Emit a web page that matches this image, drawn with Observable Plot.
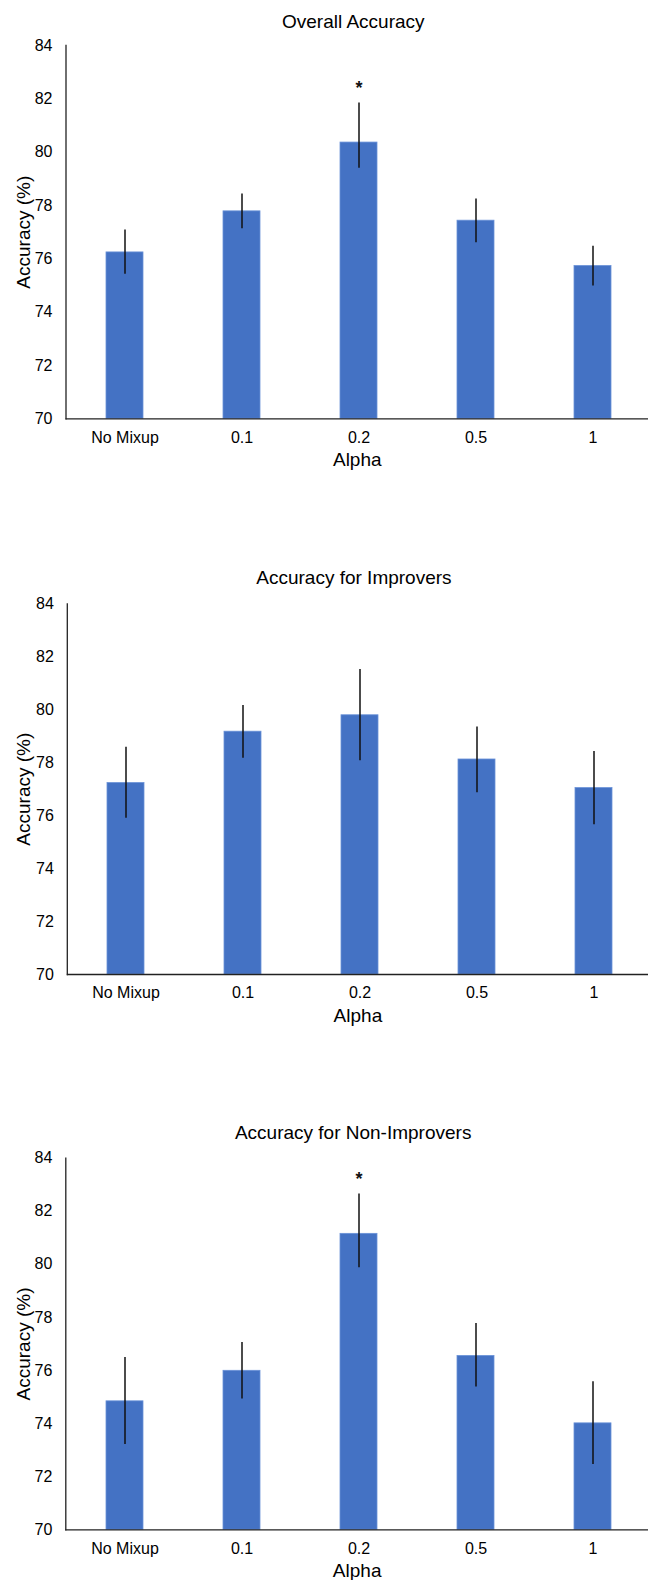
<!DOCTYPE html>
<html>
<head>
<meta charset="utf-8">
<script src="https://cdn.jsdelivr.net/npm/d3@7"></script>
<script src="https://cdn.jsdelivr.net/npm/@observablehq/plot@0.6"></script>
<style>
  html, body { margin: 0; padding: 0; background: #fff; }
  #charts svg { display: block; }
</style>
</head>
<body>
<div id="charts"></div>
<script>
// ---- data ----
const categories = ["No Mixup", "0.1", "0.2", "0.5", "1"];
const yTicks = [70, 72, 74, 76, 78, 80, 82, 84];

const overallMean = [76.24, 77.78, 80.36, 77.43, 75.73];
const overallLow  = [75.42, 77.13, 79.40, 76.60, 74.98];
const overallHigh = [77.08, 78.43, 81.84, 78.24, 76.47];
const overallSig  = ["0.2"];

const improversMean = [77.23, 79.17, 79.79, 78.12, 77.04];
const improversLow  = [75.90, 78.17, 78.07, 76.86, 75.66];
const improversHigh = [78.58, 80.16, 81.52, 79.35, 78.42];
const improversSig  = [];

const nonImproversMean = [74.84, 75.99, 81.15, 76.55, 74.01];
const nonImproversLow  = [73.21, 74.93, 79.87, 75.38, 72.46];
const nonImproversHigh = [76.49, 77.06, 82.65, 77.77, 75.58];
const nonImproversSig  = ["0.2"];

const titles = ["Overall Accuracy", "Accuracy for Improvers", "Accuracy for Non-Improvers"];
const xLabel = "Alpha";
const yLabel = "Accuracy (%)";

// ---- layout ----
const FONT = "'Liberation Sans', Arial, Helvetica, sans-serif";
const layouts = [
  {height: 555, marginLeft: 65.5, marginTop: 45,   bottom: 418.3, titleBase: 27.3},
  {height: 556, marginLeft: 66.8, marginTop: 48.3, bottom: 419,   titleBase: 28.3},
  {height: 469, marginLeft: 65.3, marginTop: 46.7, bottom: 418.3, titleBase: 27.3}
];

function makeChart(title, means, lows, highs, sig, L) {
  const rows = categories.map((c, i) => ({cat: c, v: means[i], lo: lows[i], hi: highs[i]}));
  const sigRows = rows.filter(d => sig.includes(d.cat));
  return Plot.plot({
    width: 648,
    height: L.height,
    marginLeft: L.marginLeft,
    marginRight: -4,
    marginTop: L.marginTop,
    marginBottom: L.height - L.bottom,
    style: {fontFamily: FONT, fontSize: "16px", color: "#000", background: "#fff", overflow: "visible"},
    x: {domain: categories, paddingInner: 0.688, paddingOuter: 0.344, label: null, tickSize: 0, tickPadding: 12.5},
    y: {domain: [yTicks[0], yTicks[yTicks.length - 1]], ticks: yTicks, label: null, tickSize: 0, tickPadding: 13.5},
    marks: [
      Plot.barY(rows, {x: "cat", y1: yTicks[0], y2: "v", fill: "#4472C4", stroke: "#6a92d8", strokeWidth: 0.8}),
      Plot.ruleX(rows, {x: "cat", y1: "lo", y2: "hi", stroke: "#111", strokeWidth: 1.5}),
      Plot.text(sigRows, {x: "cat", y: "hi", text: () => "*", dy: -15, fontSize: 18, fontWeight: "bold", fill: "#111"}),
      Plot.frame({anchor: "left", stroke: "#222", strokeWidth: 1.3}),
      Plot.ruleY([yTicks[0]], {stroke: "#222", strokeWidth: 1.3}),
      Plot.text([title], {frameAnchor: "top", textAnchor: "middle", dx: -6, dy: -(L.marginTop - L.titleBase), lineAnchor: "bottom", fontSize: 19, fill: "#000"}),
      Plot.text([xLabel], {frameAnchor: "bottom", textAnchor: "middle", dx: -2, dy: 47.5, lineAnchor: "bottom", fontSize: 19, fill: "#000"}),
      Plot.text([yLabel], {frameAnchor: "left", textAnchor: "middle", rotate: -90, dx: -(L.marginLeft - 29.5), lineAnchor: "bottom", fontSize: 19, fill: "#000"})
    ]
  });
}

const host = document.getElementById("charts");
host.appendChild(makeChart(titles[0], overallMean, overallLow, overallHigh, overallSig, layouts[0]));
host.appendChild(makeChart(titles[1], improversMean, improversLow, improversHigh, improversSig, layouts[1]));
host.appendChild(makeChart(titles[2], nonImproversMean, nonImproversLow, nonImproversHigh, nonImproversSig, layouts[2]));
</script>
</body>
</html>
